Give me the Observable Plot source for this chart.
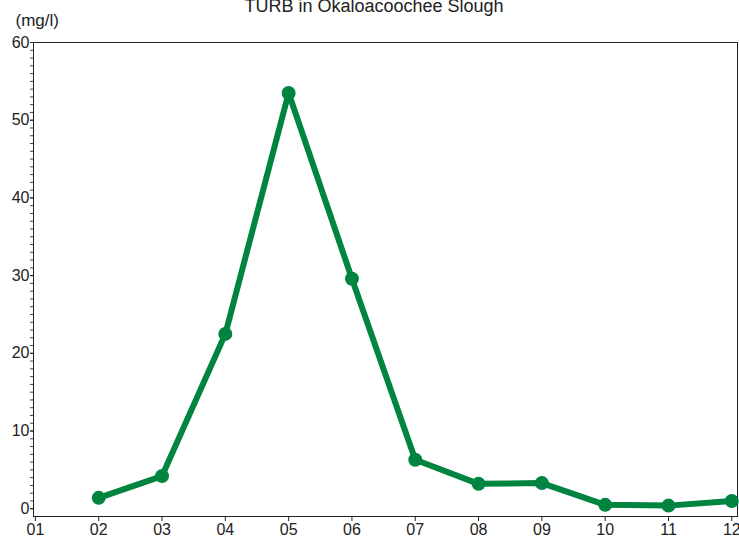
<!DOCTYPE html>
<html>
<head>
<meta charset="utf-8">
<script src="https://cdn.jsdelivr.net/npm/d3@7"></script>
<script src="https://cdn.jsdelivr.net/npm/@observablehq/plot@0.6"></script>
<style>
  html, body { margin: 0; padding: 0; background: #fff; }
  #chart svg { display: block; }
</style>
</head>
<body>
<div id="chart"></div>
<script>
const title = "TURB in Okaloacoochee Slough";
const unitLabel = "(mg/l)";
const monthTicks = [1, 2, 3, 4, 5, 6, 7, 8, 9, 10, 11, 12];
const monthLabels = ["01", "02", "03", "04", "05", "06", "07", "08", "09", "10", "11", "12"];
const months = [2, 3, 4, 5, 6, 7, 8, 9, 10, 11, 12];
const turb = [1.4, 4.2, 22.5, 53.5, 29.6, 6.3, 3.2, 3.3, 0.5, 0.4, 1.0];
const yMajor = [0, 10, 20, 30, 40, 50, 60];

const data = months.map((m, i) => ({month: m, value: turb[i]}));
const yMinor = d3.range(0, 61, 1);
const green = "#00843f";
const font = "'Liberation Sans', Arial, sans-serif";

const chart = Plot.plot({
  width: 739,
  height: 540,
  marginLeft: 33,
  marginRight: 2,
  marginTop: 42,
  marginBottom: 24,
  style: {fontFamily: font, fontSize: "16px", color: "#222", background: "#fff"},
  x: {domain: [0.97, 12.09]},
  y: {domain: [-1, 60]},
  marks: [
    Plot.frame({stroke: "#222", strokeWidth: 1}),
    Plot.axisY({ticks: yMinor, tickSize: 3, tickPadding: 0, tickFormat: () => "", label: null, stroke: "#444"}),
    Plot.axisY({ticks: yMajor, tickSize: 3, tickPadding: 1, label: null, fontSize: 16, fill: "#222"}),
    Plot.axisX({ticks: monthTicks, tickSize: 5, tickPadding: 2, label: null, fontSize: 16, fill: "#222",
      tickFormat: d => monthLabels[monthTicks.indexOf(d)]}),
    Plot.line(data, {x: "month", y: "value", stroke: green, strokeWidth: 6, strokeLinejoin: "round", strokeLinecap: "round"}),
    Plot.dot(data, {x: "month", y: "value", r: 7, fill: green, stroke: "none"}),
    Plot.text([title], {text: d => d, frameAnchor: "top-left", lineAnchor: "middle", dx: 340.5, dy: -36, fontSize: 18, fill: "#222", textAnchor: "middle"}),
    Plot.text([unitLabel], {text: d => d, frameAnchor: "top-left", lineAnchor: "middle", dx: -18, dy: -22, fontSize: 17, fill: "#222", textAnchor: "start"})
  ]
});
document.getElementById("chart").appendChild(chart);
</script>
</body>
</html>
